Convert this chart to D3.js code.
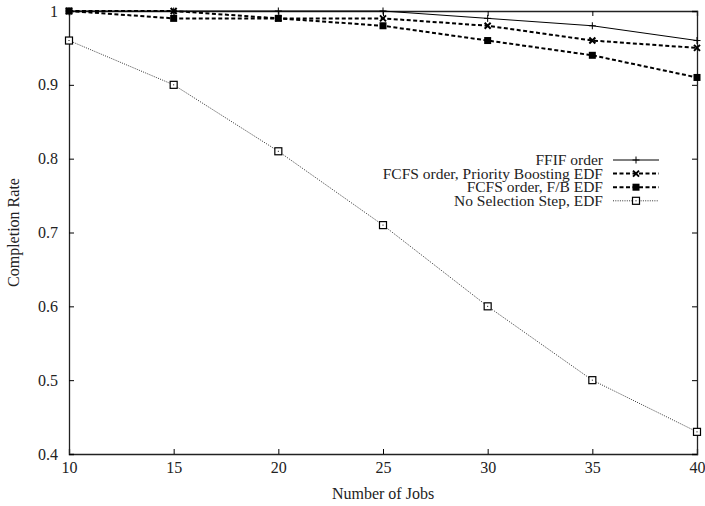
<!DOCTYPE html>
<html>
<head>
<meta charset="utf-8">
<script src="https://cdn.jsdelivr.net/npm/d3@7"></script>
<style>
  body { margin: 0; background: #fff; }
  svg { font-family: 'Liberation Serif', 'DejaVu Serif', serif; }
</style>
</head>
<body>
<div class="chart"></div>
<script>
'use strict';

// Data
const jobs = [10, 15, 20, 25, 30, 35, 40];
const ffif = [1, 1, 1, 1, 0.99, 0.98, 0.96];
const fcfsBoost = [1, 1, 0.99, 0.99, 0.98, 0.96, 0.95];
const fcfsFB = [1, 0.99, 0.99, 0.98, 0.96, 0.94, 0.91];
const noSelection = [0.96, 0.90, 0.81, 0.71, 0.60, 0.50, 0.43];
const yTicks = [0.4, 0.5, 0.6, 0.7, 0.8, 0.9, 1];
const seriesNames = ['FFIF order', 'FCFS order, Priority Boosting EDF', 'FCFS order, F/B EDF', 'No Selection Step, EDF'];

const w = 705;
const h = 506;
const plotLeft = 69, plotRight = 697, plotTop = 11, plotBottom = 454;
const fontSize = 16;

const svg = d3.select('.chart')
  .append('svg')
  .attr('width', w)
  .attr('height', h);

const xScale = d3.scaleLinear().domain([10, 40]).range([plotLeft, plotRight]);
const yScale = d3.scaleLinear().domain([0.4, 1]).range([plotBottom, plotTop]);

// Axes (gnuplot style: inward ticks, mirrored)
const tick = 5;
svg.append('g')
  .attr('transform', `translate(0, ${plotBottom})`)
  .call(d3.axisBottom(xScale).tickValues(jobs).tickSize(-tick).tickPadding(8).tickFormat(d3.format('d')));
svg.append('g')
  .attr('transform', `translate(0, ${plotTop})`)
  .call(d3.axisTop(xScale).tickValues(jobs).tickSize(-tick).tickFormat(''));
svg.append('g')
  .attr('transform', `translate(${plotLeft}, 0)`)
  .call(d3.axisLeft(yScale).tickValues(yTicks).tickSize(-tick).tickPadding(11).tickFormat(d => d === 1 ? '1' : d3.format('.1f')(d)));
svg.append('g')
  .attr('transform', `translate(${plotRight}, 0)`)
  .call(d3.axisRight(yScale).tickValues(yTicks).tickSize(-tick).tickFormat(''));

svg.selectAll('.domain').attr('stroke', '#222').attr('stroke-width', 1.3);
svg.selectAll('.tick line').attr('stroke', '#000');
svg.selectAll('.tick text').attr('font-size', fontSize).attr('font-family', 'Liberation Serif').attr('fill', '#222');

// Axis labels
svg.append('text')
  .attr('x', (plotLeft + plotRight) / 2)
  .attr('y', 499)
  .attr('text-anchor', 'middle')
  .attr('font-size', fontSize)
  .attr('fill', '#222')
  .text('Number of Jobs');
svg.append('text')
  .attr('transform', `translate(19, ${(plotTop + plotBottom) / 2}) rotate(-90)`)
  .attr('text-anchor', 'middle')
  .attr('font-size', fontSize)
  .attr('fill', '#222')
  .text('Completion Rate');

// Series
const styles = [
  { values: ffif, stroke: '#000', width: 1, dash: null, marker: 'plus' },
  { values: fcfsBoost, stroke: '#000', width: 2, dash: '4,2.5', marker: 'cross' },
  { values: fcfsFB, stroke: '#000', width: 2, dash: '4,2.5', marker: 'fsquare' },
  { values: noSelection, stroke: '#333', width: 1, dash: '1,1.3', marker: 'square' }
];

const line = d3.line()
  .x((d, i) => xScale(jobs[i]))
  .y(d => yScale(d));

function drawMarker(g, type, x, y) {
  const s = 3.5;
  if (type === 'plus') {
    g.append('path').attr('d', `M${x - s},${y}H${x + s}M${x},${y - s}V${y + s}`)
      .attr('stroke', '#000').attr('stroke-width', 1);
  } else if (type === 'cross') {
    g.append('path').attr('d', `M${x - 3},${y - 3}L${x + 3},${y + 3}M${x - 3},${y + 3}L${x + 3},${y - 3}`)
      .attr('stroke', '#000').attr('stroke-width', 2);
  } else if (type === 'fsquare') {
    g.append('rect').attr('x', x - 3.5).attr('y', y - 3.5).attr('width', 7).attr('height', 7)
      .attr('fill', '#000');
  } else {
    g.append('rect').attr('x', x - 3.5).attr('y', y - 3.5).attr('width', 7).attr('height', 7)
      .attr('fill', '#fff').attr('stroke', '#000').attr('stroke-width', 1.2);
    g.append('rect').attr('x', x - 0.5).attr('y', y - 0.5).attr('width', 1).attr('height', 1)
      .attr('fill', '#000');
  }
}

styles.forEach(s => {
  const g = svg.append('g');
  g.append('path')
    .datum(s.values)
    .attr('d', line)
    .attr('fill', 'none')
    .attr('stroke', s.stroke)
    .attr('stroke-width', s.width)
    .attr('stroke-dasharray', s.dash);
  s.values.forEach((v, i) => drawMarker(g, s.marker, xScale(jobs[i]), yScale(v)));
});

// Legend
const legendX = 603;
const legendY = 160;
const rowH = 13.6;
seriesNames.forEach((name, i) => {
  const y = legendY + i * rowH;
  const s = styles[i];
  const g = svg.append('g');
  g.append('text')
    .attr('x', legendX)
    .attr('y', y)
    .attr('dy', '0.34em')
    .attr('text-anchor', 'end')
    .attr('font-size', 15.5)
    .attr('fill', '#222')
    .text(name);
  g.append('line')
    .attr('x1', 613).attr('x2', 659)
    .attr('y1', y).attr('y2', y)
    .attr('stroke', s.stroke)
    .attr('stroke-width', s.width)
    .attr('stroke-dasharray', s.dash);
  drawMarker(g, s.marker, 636, y);
});
</script>
</body>
</html>
